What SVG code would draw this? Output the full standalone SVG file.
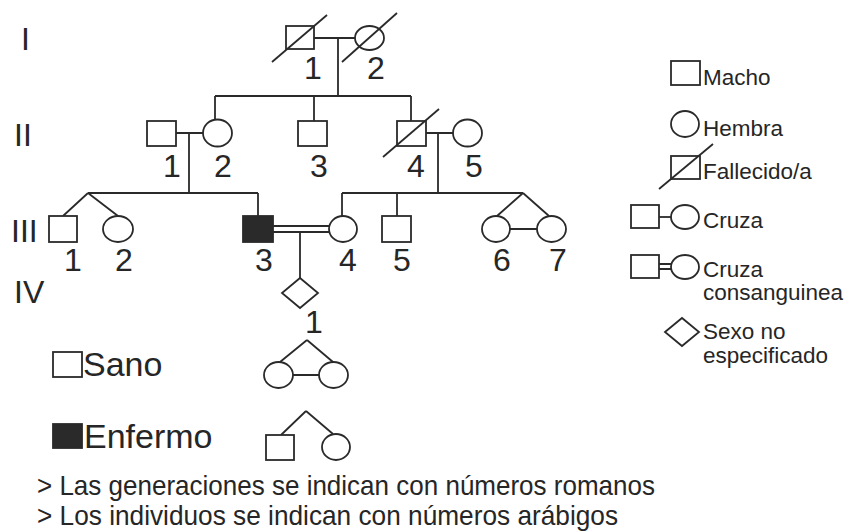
<svg xmlns="http://www.w3.org/2000/svg" width="848" height="531" viewBox="0 0 848 531">
<style>
.s{fill:#fff;stroke:#2a2a2a;stroke-width:1.8}
.f{fill:#2a2a2a;stroke:#2a2a2a;stroke-width:1.8}
.l{fill:none;stroke:#2a2a2a;stroke-width:1.8}
.g{font-family:"Liberation Sans",Arial,sans-serif;font-size:32px;fill:#262626}
.n{font-family:"Liberation Sans",Arial,sans-serif;font-size:32px;fill:#262626;text-anchor:middle}
.k{font-family:"Liberation Sans",Arial,sans-serif;font-size:22.5px;fill:#262626}
.b{font-family:"Liberation Sans",Arial,sans-serif;font-size:34px;fill:#262626}
.t{font-family:"Liberation Sans",Arial,sans-serif;font-size:28px;fill:#262626}
</style>
<rect width="848" height="531" fill="#fff"/>
<g id="generations">
<text class="g" x="21" y="50">I</text>
<text class="g" x="14" y="146">II</text>
<text class="g" x="11" y="242">III</text>
<text class="g" x="14" y="303">IV</text>
</g>
<g id="connectors">
<path class="l" d="M314 38H355M338 38V96M215 96H411M215 96V119M314 96V121M411 96V121"/>
<path class="l" d="M176 133H203M189 133V193M426 133H453M438 133V193"/>
<path class="l" d="M88 193H258M88 193L63 216M88 193L118 216M258 193V216"/>
<path class="l" d="M342 193H523M342 193V216M397 193V216M523 193L497 216M523 193L549 216M510 229H537"/>
<path class="l" d="M273 226H329M273 232H329M300 232V278"/>
</g>
<g id="I-1"><rect class="s" x="286" y="26" width="28" height="23"/><line class="l" x1="272" y1="62" x2="327" y2="15"/><text class="n" x="313" y="79">1</text></g>
<g id="I-2"><ellipse class="s" cx="369.5" cy="38" rx="14.5" ry="12"/><line class="l" x1="342" y1="62" x2="397" y2="13"/><text class="n" x="376" y="79">2</text></g>
<g id="II-1"><rect class="s" x="147" y="121" width="29" height="25"/><text class="n" x="172" y="177">1</text></g>
<g id="II-2"><ellipse class="s" cx="217.5" cy="133" rx="14.5" ry="13.5"/><text class="n" x="223" y="177">2</text></g>
<g id="II-3"><rect class="s" x="298" y="121" width="29" height="25"/><text class="n" x="319" y="177">3</text></g>
<g id="II-4"><rect class="s" x="397" y="121" width="29" height="25"/><line class="l" x1="383" y1="157" x2="439" y2="109"/><text class="n" x="416" y="177">4</text></g>
<g id="II-5"><ellipse class="s" cx="467.5" cy="133" rx="14.5" ry="13.5"/><text class="n" x="474" y="177">5</text></g>
<g id="III-1"><rect class="s" x="49" y="216" width="28" height="26"/><text class="n" x="73" y="271">1</text></g>
<g id="III-2"><ellipse class="s" cx="118" cy="229" rx="15" ry="13"/><text class="n" x="124" y="271">2</text></g>
<g id="III-3"><rect class="f" x="243" y="216" width="30" height="26"/><text class="n" x="264" y="271">3</text></g>
<g id="III-4"><ellipse class="s" cx="343" cy="229" rx="14" ry="13"/><text class="n" x="348" y="271">4</text></g>
<g id="III-5"><rect class="s" x="382" y="216" width="29" height="26"/><text class="n" x="402" y="271">5</text></g>
<g id="III-6"><ellipse class="s" cx="496" cy="229" rx="14" ry="13"/><text class="n" x="502" y="271">6</text></g>
<g id="III-7"><ellipse class="s" cx="551.5" cy="229" rx="14.5" ry="13"/><text class="n" x="558" y="271">7</text></g>
<g id="IV-1"><path class="s" d="M300 278L318 293L300 308L282 293Z"/><text class="n" x="314" y="333">1</text></g>
<g id="legend-sano"><rect class="s" x="53" y="352" width="29" height="25"/><text class="b" x="83" y="376">Sano</text></g>
<g id="legend-enfermo"><rect class="f" x="53" y="424" width="29" height="24"/><text class="b" x="84" y="448">Enfermo</text></g>
<g id="twins-identical"><path class="l" d="M307 340L280 362M307 340L333 362M293 375H319"/><ellipse class="s" cx="278.5" cy="375" rx="14.5" ry="13"/><ellipse class="s" cx="333.5" cy="375" rx="14.5" ry="13"/></g>
<g id="twins-fraternal"><path class="l" d="M306 411L281 435M306 411L333 434"/><rect class="s" x="266" y="435" width="28" height="25"/><ellipse class="s" cx="336" cy="447" rx="14" ry="13"/></g>
<g id="legend-macho"><rect class="s" x="671" y="61" width="29" height="24"/><text class="k" x="703" y="85">Macho</text></g>
<g id="legend-hembra"><ellipse class="s" cx="685" cy="124" rx="14" ry="13"/><text class="k" x="703" y="136">Hembra</text></g>
<g id="legend-fallecido"><rect class="s" x="671" y="156" width="29" height="23"/><line class="l" x1="659" y1="189" x2="713" y2="144"/><text class="k" x="703" y="179">Fallecido/a</text></g>
<g id="legend-cruza"><rect class="s" x="631" y="205" width="28" height="23"/><line class="l" x1="659" y1="217" x2="671" y2="217"/><ellipse class="s" cx="685" cy="217" rx="14" ry="12"/><text class="k" x="703" y="228">Cruza</text></g>
<g id="legend-consanguinea"><rect class="s" x="631" y="255" width="28" height="23"/><path class="l" d="M659 264H671M659 269H671"/><ellipse class="s" cx="685" cy="267" rx="14" ry="12"/><text class="k" x="703" y="277">Cruza</text><text class="k" x="703" y="300">consanguinea</text></g>
<g id="legend-sexo"><path class="s" d="M665 332L682 318L699 332L682 346Z"/><text class="k" x="703" y="339">Sexo no</text><text class="k" x="703" y="363">especificado</text></g>
<g id="notes">
<text class="t" x="37" y="495" textLength="618" lengthAdjust="spacingAndGlyphs">&gt; Las generaciones se indican con números romanos</text>
<text class="t" x="37" y="525" textLength="581" lengthAdjust="spacingAndGlyphs">&gt; Los individuos se indican con números arábigos</text>
</g>
</svg>
